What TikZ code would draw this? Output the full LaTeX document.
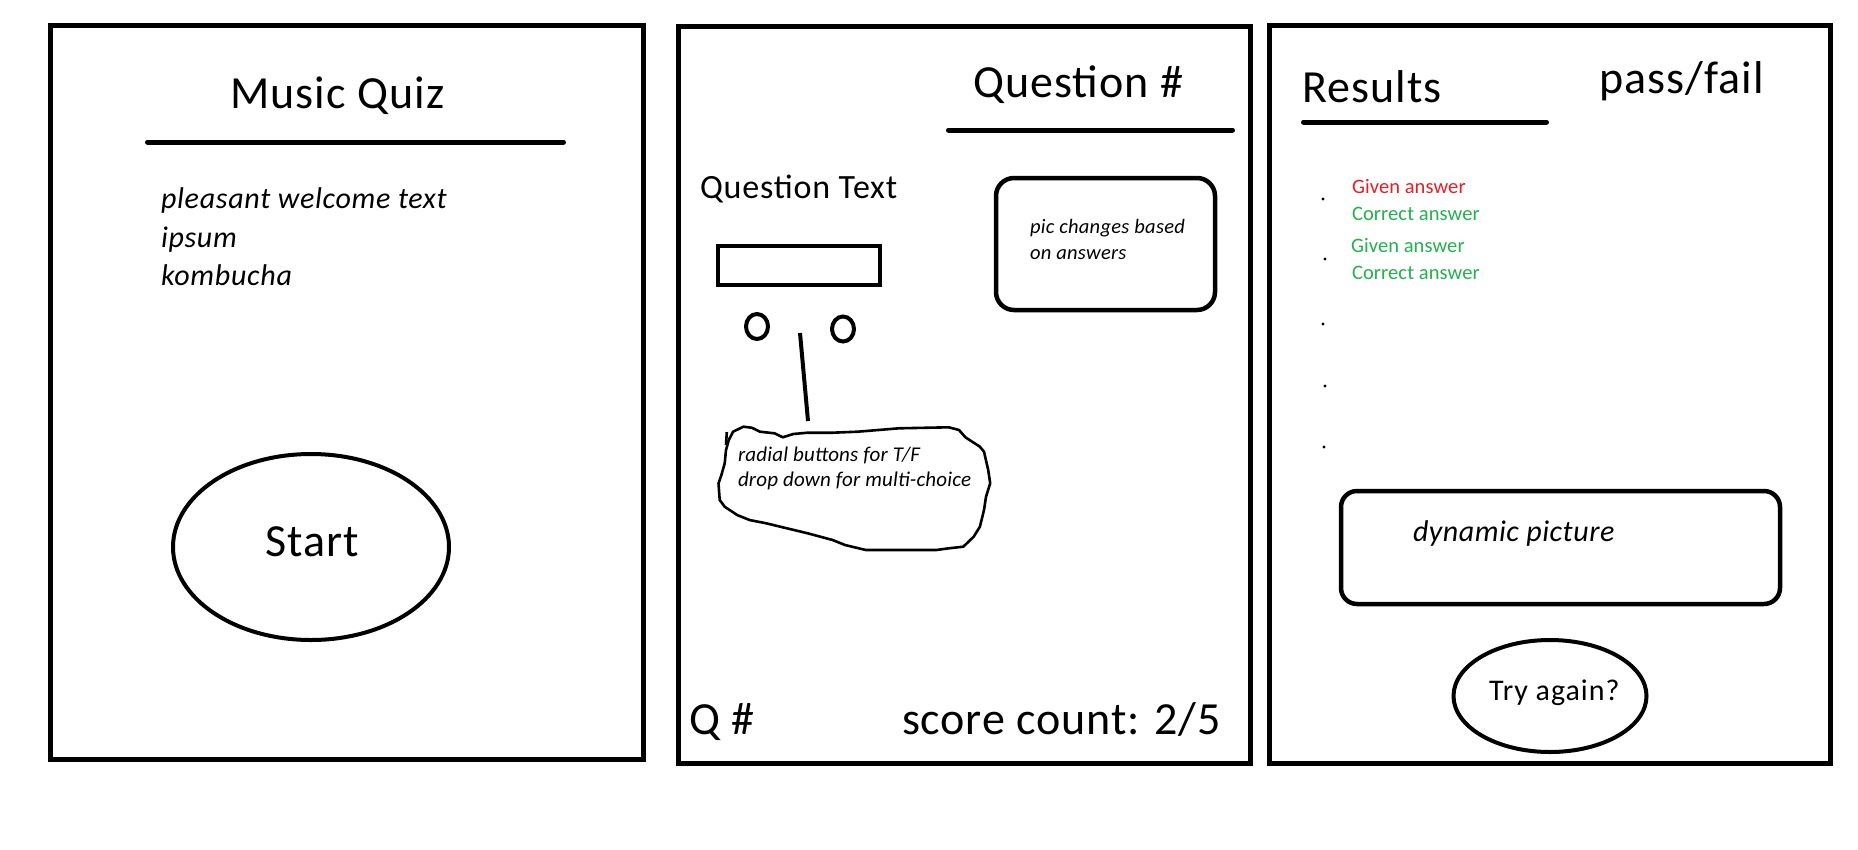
\documentclass[tikz,border=0pt]{standalone}
\usepackage{fontspec}
\setmainfont{Carlito}
\usetikzlibrary{shapes.geometric}
\definecolor{ansred}{HTML}{ED1C24}
\definecolor{ansgreen}{HTML}{22B14C}
\newcommand\fsz[1]{\fontsize{#1}{#1}\selectfont}
\newcommand\trk[1]{\addfontfeature{LetterSpace=#1}}
\tikzset{
  panel/.style={line width=5pt},
  rule/.style={line width=5pt, line cap=round},
  txt/.style={anchor=base west, inner sep=0pt, outer sep=0pt},
  big/.style={txt, font=\fsz{46}\trk{2.4}},
  ital/.style={txt, font=\fsz{30}\itshape\trk{2.4}},
  small/.style={txt, font=\fsz{20.5}\trk{0.5}},
  smallit/.style={txt, font=\fsz{20.5}\itshape\trk{1.4}},
  boxline/.style={line width=4.5pt},
  dotmark/.style={circle, fill=black, inner sep=0pt, minimum size=3.4pt},
}
\begin{document}
\begin{tikzpicture}[x=1pt, y=-1pt]
\useasboundingbox (0,0) rectangle (1858,849);
\fill[white] (0,0) rectangle (1858,849);

% ---------- Panel 1 ----------
\draw[panel] (50.5,25.5) rectangle (643,759.5);
\node[big] (mqtitle) at (230,108) {Music Quiz};
\coordinate (mqruleL) at (147.5,142);
\coordinate (mqruleR) at (563.5,142);
\draw[rule] (mqruleL) -- (mqruleR);
\node[ital] (welcome1) at (161,208) {pleasant welcome text};
\node[ital] (welcome2) at (161,247) {ipsum};
\node[ital] (welcome3) at (161,285) {kombucha};
\node[ellipse, draw, line width=4pt, minimum width=276pt, minimum height=186pt, inner sep=0pt] (startbtn) at (311,547) {};
\node[anchor=base, inner sep=0pt, font=\fsz{46}\trk{2.4}] (starttxt) at (312,556) {Start};

% ---------- Panel 2 ----------
\draw[panel] (678,26) rectangle (1250,763.5);
\node[big] (qnum) at (973,97.5) {Question \#};
\coordinate (qruleL) at (948.5,130);
\coordinate (qruleR) at (1232.5,130);
\draw[rule] (qruleL) -- (qruleR);
\node[txt, font=\fsz{34}\trk{2.4}] (qtext) at (700,198) {Question Text};
\draw[line width=4pt] (718,246) rectangle (880,285);
\node[ellipse, draw, line width=4pt, minimum width=22pt, minimum height=25pt, inner sep=0pt] (radio1) at (757,326.5) {};
\node[ellipse, draw, line width=4pt, minimum width=22pt, minimum height=25pt, inner sep=0pt] (radio2) at (843,329) {};
\coordinate (calloutA) at (800,333);
\coordinate (calloutB) at (808,421);
\draw[line width=4pt] (calloutA) -- (calloutB);
\draw[boxline, rounded corners=18pt] (996,178) rectangle (1215,310);
\node[smallit] (pic1) at (1030,233) {pic changes based};
\node[smallit] (pic2) at (1030,259) {on answers};
% hand-drawn blob
\draw[line width=2.6pt, line join=round]
  (728.8,440) -- (733,431.7) -- (743.4,426.7) -- (751.7,427.7) -- (760,431.7)
  -- (774.5,433.3) -- (782.8,437.3) -- (793.2,434) -- (807.7,432.7) -- (832.6,432.7)
  -- (857.5,431.7) -- (899,428.3) -- (948.8,427.3) -- (959,430) -- (965.4,437.3)
  -- (979.9,446.7) -- (984,451.7) -- (988.2,470) -- (990.2,483.3) -- (986,496.7)
  -- (984,510) -- (979.9,526.7) -- (973.7,536.7) -- (963.3,546.7) -- (948.8,548.3)
  -- (936.3,550) -- (865.8,550) -- (845,545) -- (832.6,540) -- (807.7,533.3)
  -- (786.9,528.3) -- (766.2,523.3) -- (749.6,520) -- (737.1,515) -- (724.7,506.7)
  -- (719.7,500) -- (718.5,483.3) -- (721.4,475) -- (724.7,463.3) -- (726,450) -- cycle;
\draw[line width=2.6pt] (726.8,432) -- (726,445);
\node[txt, font=\fsz{21}\itshape\trk{0.9}] (blob1) at (738,461) {radial buttons for T/F};
\node[txt, font=\fsz{21}\itshape\trk{0.9}] (blob2) at (738,486) {drop down for multi-choice};
\node[big] (qhash) at (689,734) {Q \#};
\node[txt, font=\fsz{46}\trk{1.9}] (score) at (902,734) {score count: 2/5};

% ---------- Panel 3 ----------
\draw[panel] (1269.5,25.5) rectangle (1830,763);
\node[big] (results) at (1302,102) {Results};
\coordinate (rruleL) at (1303.5,122);
\coordinate (rruleR) at (1546.5,122);
\draw[rule] (rruleL) -- (rruleR);
\node[big] (passfail) at (1599,93) {pass/fail};
\node[small, text=ansred] (given1) at (1352,193) {Given answer};
\node[small, text=ansgreen] (correct1) at (1352,220) {Correct answer};
\node[small, text=ansgreen] (given2) at (1351,252) {Given answer};
\node[small, text=ansgreen] (correct2) at (1352,279) {Correct answer};
\node[dotmark] (dot1) at (1323,199) {};
\node[dotmark] (dot2) at (1325,259) {};
\node[dotmark] (dot3) at (1323,324) {};
\node[dotmark] (dot4) at (1325,386) {};
\node[dotmark] (dot5) at (1324,447) {};
\draw[boxline, rounded corners=16pt] (1341,491) rectangle (1780,604);
\node[txt, font=\fsz{30}\itshape\trk{1.8}] (dynpic) at (1413,541) {dynamic picture};
\node[ellipse, draw, line width=4pt, minimum width=193pt, minimum height=112pt, inner sep=0pt] (tryagain) at (1550,696) {};
\node[txt, font=\fsz{30}\trk{3.3}] (trytxt) at (1489,700) {Try again?};
\end{tikzpicture}
\end{document}
